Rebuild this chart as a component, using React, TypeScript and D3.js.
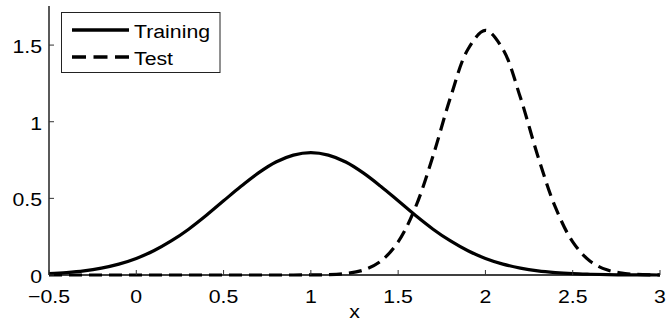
import * as React from "react";
import * as d3 from "d3";

// sample positions along x (step 0.1)
const xs = d3.range(36).map((i) => +(-0.5 + i * 0.1).toFixed(1));

// values, one per x position
const training = [
  0.009, 0.016, 0.027, 0.045, 0.071, 0.108, 0.158, 0.222, 0.299, 0.388,
  0.484, 0.579, 0.666, 0.737, 0.782, 0.798, 0.782, 0.737, 0.666, 0.579,
  0.484, 0.388, 0.299, 0.222, 0.158, 0.108, 0.071, 0.045, 0.027, 0.016,
  0.009, 0.005, 0.002, 0.001, 0.001, 0.0,
];
const test = [
  0.0, 0.0, 0.0, 0.0, 0.0, 0.0, 0.0, 0.0, 0.0, 0.0,
  0.0, 0.0, 0.0, 0.0, 0.0, 0.001, 0.002, 0.01, 0.032, 0.09,
  0.216, 0.444, 0.777, 1.159, 1.473, 1.596, 1.473, 1.159, 0.777, 0.444,
  0.216, 0.09, 0.032, 0.01, 0.002, 0.001,
];

const xTicks = [-0.5, 0, 0.5, 1, 1.5, 2, 2.5, 3];
const yTicks = [0, 0.5, 1, 1.5];
const seriesNames = ["Training", "Test"];

const width = 670;
const height = 331;
const font = "'Liberation Sans', Arial, sans-serif";
const fontSize = 19;
const stretch = 1.12;

function fmt(v: number) {
  return v < 0 ? "\u2212" + String(-v) : String(v);
}

export default function App() {
  const ref = React.useRef<SVGSVGElement>(null);

  React.useEffect(() => {
    const svg = d3.select(ref.current);
    svg.selectAll("*").remove();

    const x = d3.scaleLinear().domain([-0.5, 3]).range([49, 660]);
    const y = d3.scaleLinear().domain([0, 1.755]).range([275, 6]);

    const line = d3
      .line<number>()
      .x((_, i) => x(xs[i]))
      .y((d) => y(d))
      .curve(d3.curveCatmullRom.alpha(0.5));

    const g = svg.append("g");

    // curves
    g.append("path")
      .attr("d", line(training))
      .attr("fill", "none")
      .attr("stroke", "#000")
      .attr("stroke-width", 3.2);

    g.append("path")
      .attr("d", line(test))
      .attr("fill", "none")
      .attr("stroke", "#000")
      .attr("stroke-width", 3.2)
      .attr("stroke-dasharray", "13,7");

    // axes
    g.append("line")
      .attr("x1", x(-0.5))
      .attr("x2", x(3))
      .attr("y1", y(0))
      .attr("y2", y(0))
      .attr("stroke", "#000")
      .attr("stroke-width", 1.3);
    g.append("line")
      .attr("x1", x(-0.5))
      .attr("x2", x(-0.5))
      .attr("y1", y(0))
      .attr("y2", y(1.755))
      .attr("stroke", "#000")
      .attr("stroke-width", 1.3);

    const label = (sel, text, tx, ty, anchor) =>
      sel
        .append("text")
        .attr("transform", `translate(${tx},${ty}) scale(${stretch},1)`)
        .attr("text-anchor", anchor)
        .attr("font-family", font)
        .attr("font-size", fontSize)
        .attr("fill", "#000")
        .text(text);

    xTicks.forEach((t) => {
      g.append("line")
        .attr("x1", x(t))
        .attr("x2", x(t))
        .attr("y1", y(0))
        .attr("y2", y(0) - 5)
        .attr("stroke", "#333")
        .attr("stroke-width", 1);
      label(g, fmt(t), x(t), 303, "middle");
    });

    yTicks.forEach((t) => {
      g.append("line")
        .attr("x1", x(-0.5))
        .attr("x2", x(-0.5) + 5)
        .attr("y1", y(t))
        .attr("y2", y(t))
        .attr("stroke", "#333")
        .attr("stroke-width", 1);
      label(g, fmt(t), 42, y(t) + 8, "end");
    });

    label(g, "x", (x(-0.5) + x(3)) / 2, 318, "middle");

    // legend
    const lg = svg.append("g");
    lg.append("rect")
      .attr("x", 61.5)
      .attr("y", 12.5)
      .attr("width", 158.5)
      .attr("height", 60)
      .attr("fill", "#fff")
      .attr("stroke", "#222")
      .attr("stroke-width", 1);

    seriesNames.forEach((name, i) => {
      const ly = 30 + i * 27;
      lg.append("line")
        .attr("x1", 72)
        .attr("x2", 129)
        .attr("y1", ly)
        .attr("y2", ly)
        .attr("stroke", "#000")
        .attr("stroke-width", 3.4)
        .attr("stroke-dasharray", i === 1 ? "14,7.5" : null);
      label(lg, name, 134, ly + 7.5, "start");
    });
  }, []);

  return (
    <svg
      ref={ref}
      width={width}
      height={height}
      style={{ position: "absolute", left: 0, top: 0, background: "#fff" }}
    />
  );
}
